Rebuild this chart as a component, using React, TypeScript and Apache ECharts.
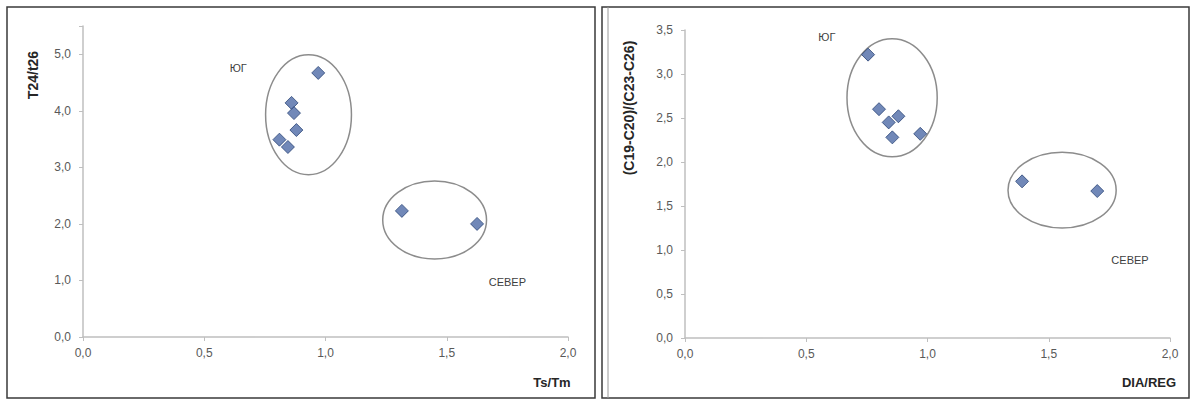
import React, { useEffect, useRef } from "react";
import * as echarts from "echarts";

// ---- data ----
const xTicks = [0, 0.5, 1.0, 1.5, 2.0];
const leftYTicks = [0, 1, 2, 3, 4, 5];
const rightYTicks = [0, 0.5, 1.0, 1.5, 2.0, 2.5, 3.0, 3.5];

// Left: Ts/Tm vs T24/t26
const leftX = [0.97, 0.86, 0.87, 0.88, 0.81, 0.845, 1.315, 1.625];
const leftY = [4.67, 4.14, 3.96, 3.66, 3.49, 3.36, 2.23, 2.0];

// Right: DIA/REG vs (C19-C20)/(C23-C26)
const rightX = [0.755, 0.8, 0.88, 0.84, 0.855, 0.97, 1.39, 1.7];
const rightY = [3.22, 2.6, 2.52, 2.45, 2.28, 2.32, 1.78, 1.67];

// group ellipses in data units: [cx, cy, rx, ry]
const leftEllipses = [
  [0.93, 3.93, 0.177, 1.06],
  [1.45, 2.07, 0.214, 0.69],
];
const rightEllipses = [
  [0.854, 2.73, 0.186, 0.67],
  [1.555, 1.68, 0.223, 0.43],
];
// group labels: [text, x, y]
const leftGroupLabels: [string, number, number][] = [
  ["ЮГ", 0.64, 4.76],
  ["СЕВЕР", 1.75, 0.97],
];
const rightGroupLabels: [string, number, number][] = [
  ["ЮГ", 0.585, 3.42],
  ["СЕВЕР", 1.835, 0.89],
];

const FONT = "Liberation Sans, Arial, sans-serif";
const fmt = (v: number) => v.toFixed(1).replace(".", ",");

export default function App() {
  const ref = useRef<HTMLDivElement>(null);
  useEffect(() => {
    if (!ref.current) return;
    const chart = echarts.init(ref.current, undefined, { renderer: "svg" });
    const axisLine = { show: true, lineStyle: { color: "#bfbfbf", width: 1.5 } };
    const axisTick = { show: true, length: 4, lineStyle: { color: "#bfbfbf" } };
    const xAxisBase = (gi: number) => ({
      type: "value",
      gridIndex: gi,
      min: 0,
      max: 2,
      interval: 0.5,
      axisLine,
      axisTick,
      splitLine: { show: false },
      axisLabel: {
        margin: 10,
        color: "#595959",
        fontSize: 12,
        fontFamily: FONT,
        formatter: (v: number) => (xTicks.includes(v) ? fmt(v) : ""),
      },
    });
    const marker = {
      symbol: "diamond",
      symbolSize: 13,
      itemStyle: { color: "#4d6aa6", borderColor: "#2c4677", borderWidth: 1 },
    };
    chart.setOption({
      animation: false,
      backgroundColor: "#ffffff",
      grid: [
        { left: 83, top: 26, width: 485, height: 311 },
        { left: 685, top: 30, width: 485, height: 308 },
      ],
      xAxis: [xAxisBase(0), xAxisBase(1)],
      yAxis: [
        {
          type: "value",
          gridIndex: 0,
          min: 0,
          max: 5.5,
          interval: 1,
          axisLine,
          axisTick,
          splitLine: { show: false },
          axisLabel: {
            margin: 12,
            color: "#595959",
            fontSize: 12,
            fontFamily: FONT,
            formatter: (v: number) => (leftYTicks.includes(v) ? fmt(v) : ""),
          },
        },
        {
          type: "value",
          gridIndex: 1,
          min: 0,
          max: 3.5,
          interval: 0.5,
          axisLine,
          axisTick,
          splitLine: { show: false },
          axisLabel: {
            margin: 12,
            color: "#595959",
            fontSize: 12,
            fontFamily: FONT,
            formatter: (v: number) => (rightYTicks.includes(v) ? fmt(v) : ""),
          },
        },
      ],
      series: [
        {
          type: "scatter",
          xAxisIndex: 0,
          yAxisIndex: 0,
          data: leftX.map((x, i) => [x, leftY[i]]),
          ...marker,
        },
        {
          type: "scatter",
          xAxisIndex: 1,
          yAxisIndex: 1,
          data: rightX.map((x, i) => [x, rightY[i]]),
          ...marker,
        },
      ],
    });

    const graphics: any[] = [];
    // panel frames
    graphics.push({
      type: "rect",
      shape: { x: 7, y: 7, width: 588, height: 391 },
      style: { fill: "none", stroke: "#3a3a3a", lineWidth: 1.5 },
    });
    graphics.push({
      type: "rect",
      shape: { x: 602, y: 7, width: 587, height: 391 },
      style: { fill: "none", stroke: "#3a3a3a", lineWidth: 1.5 },
    });
    graphics.push({
      type: "line",
      shape: { x1: 608, y1: 7, x2: 608, y2: 398 },
      style: { stroke: "#9a9a9a", lineWidth: 1 },
    });
    const addEllipses = (gi: number, list: number[][]) => {
      list.forEach(([cx, cy, rx, ry]) => {
        const c = chart.convertToPixel({ gridIndex: gi }, [cx, cy]) as number[];
        const e = chart.convertToPixel({ gridIndex: gi }, [cx + rx, cy + ry]) as number[];
        graphics.push({
          type: "ellipse",
          shape: { cx: c[0], cy: c[1], rx: Math.abs(e[0] - c[0]), ry: Math.abs(c[1] - e[1]) },
          style: { fill: "none", stroke: "#8c8c8c", lineWidth: 1.5 },
          z: 1,
        });
      });
    };
    const addLabels = (gi: number, list: [string, number, number][]) => {
      list.forEach(([t, x, y]) => {
        const p = chart.convertToPixel({ gridIndex: gi }, [x, y]) as number[];
        graphics.push({
          type: "text",
          x: p[0],
          y: p[1],
          style: {
            text: t,
            fill: "#404040",
            font: `11px ${FONT}`,
            align: "center",
            verticalAlign: "middle",
          },
        });
      });
    };
    addEllipses(0, leftEllipses);
    addEllipses(1, rightEllipses);
    addLabels(0, leftGroupLabels);
    addLabels(1, rightGroupLabels);
    // axis titles
    graphics.push({
      type: "text",
      x: 33,
      y: 75,
      rotation: Math.PI / 2,
      style: { text: "T24/t26", fill: "#262626", font: `bold 14px ${FONT}`, align: "center", verticalAlign: "middle" },
    });
    graphics.push({
      type: "text",
      x: 629,
      y: 108,
      rotation: Math.PI / 2,
      style: { text: "(C19-C20)/(C23-C26)", fill: "#262626", font: `bold 14px ${FONT}`, align: "center", verticalAlign: "middle" },
    });
    graphics.push({
      type: "text",
      x: 552,
      y: 382,
      style: { text: "Ts/Tm", fill: "#262626", font: `bold 13px ${FONT}`, align: "center", verticalAlign: "middle" },
    });
    graphics.push({
      type: "text",
      x: 1149,
      y: 382,
      style: { text: "DIA/REG", fill: "#262626", font: `bold 13px ${FONT}`, align: "center", verticalAlign: "middle" },
    });
    chart.setOption({ graphic: graphics });
    return () => chart.dispose();
  }, []);
  return (
    <div
      ref={ref}
      style={{ position: "fixed", left: 0, top: 0, width: 1196, height: 403 }}
    />
  );
}
